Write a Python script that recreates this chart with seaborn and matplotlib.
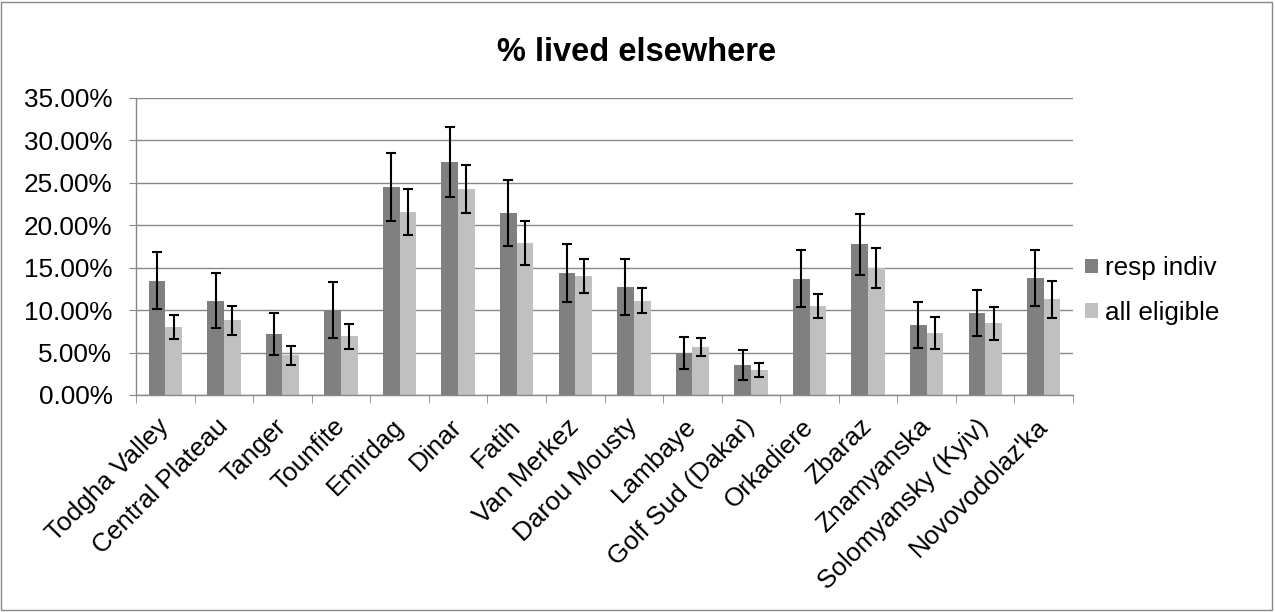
import numpy as np
import pandas as pd
import matplotlib
matplotlib.use("Agg")
import matplotlib.pyplot as plt
import seaborn as sns
from matplotlib.patches import Rectangle, Patch
from matplotlib.ticker import FuncFormatter, FixedLocator

# --- data (percent) ---
sites = ["Todgha Valley", "Central Plateau", "Tanger", "Tounfite", "Emirdag",
         "Dinar", "Fatih", "Van Merkez", "Darou Mousty", "Lambaye",
         "Golf Sud (Dakar)", "Orkadiere", "Zbaraz", "Znamyanska",
         "Solomyansky (Kyiv)", "Novovodolaz'ka"]
resp_indiv = [13.47, 11.12, 7.19, 10.02, 24.55, 27.42, 21.45, 14.34,
              12.77, 4.95, 3.53, 13.71, 17.75, 8.25, 9.70, 13.83]
resp_indiv_err = [3.38, 3.24, 2.50, 3.32, 4.00, 4.12, 3.93, 3.40,
                  3.30, 1.90, 1.80, 3.32, 3.63, 2.67, 2.73, 3.30]
all_eligible = [8.05, 8.80, 4.67, 6.91, 21.52, 24.31, 17.91, 14.06,
                11.12, 5.66, 2.95, 10.49, 14.93, 7.31, 8.44, 11.27]
all_eligible_err = [1.43, 1.73, 1.16, 1.45, 2.70, 2.85, 2.55, 2.02,
                    1.45, 1.08, 0.85, 1.42, 2.37, 1.87, 1.95, 2.22]
series = ["resp indiv", "all eligible"]
colors = {"resp indiv": "#808080", "all eligible": "#c0c0c0"}
y_ticks = [0, 5, 10, 15, 20, 25, 30, 35]

plt.rcParams['font.family'] = ['Liberation Sans', 'DejaVu Sans']

df = pd.DataFrame({
    "site": sites * 2,
    "series": [series[0]] * len(sites) + [series[1]] * len(sites),
    "value": resp_indiv + all_eligible,
})
errs = {series[0]: resp_indiv_err, series[1]: all_eligible_err}
vals = {series[0]: resp_indiv, series[1]: all_eligible}

fig = plt.figure(figsize=(12.75, 6.12), dpi=100)
ax = fig.add_axes([0.1067, 0.3546, 0.7349, 0.4853])

sns.barplot(data=df, x="site", y="value", hue="series", order=sites,
            hue_order=series, palette=colors, width=0.57, errorbar=None,
            saturation=1, legend=False, ax=ax, zorder=2)

# error bars at the bar centres
for cont, s in zip(ax.containers, series):
    xs = [p.get_x() + p.get_width() / 2 for p in cont]
    ax.errorbar(xs, vals[s], yerr=errs[s], fmt='none', ecolor='black',
                elinewidth=1.5, capsize=3.8, capthick=1.5, zorder=3)

ax.set_xlim(-0.5, len(sites) - 0.5)
ax.set_ylim(0, 35)
ax.yaxis.set_major_locator(FixedLocator(y_ticks))
ax.yaxis.set_major_formatter(FuncFormatter(lambda v, p: f"{v:.2f}%"))
ax.grid(axis='y', color='#888888', linewidth=1.0)
ax.set_axisbelow(True)
ax.set_xlabel("")
ax.set_ylabel("")

for side in ['top', 'right']:
    ax.spines[side].set_visible(False)
for side in ['left', 'bottom']:
    ax.spines[side].set_color('#888888')
    ax.spines[side].set_linewidth(1.0)

ax.tick_params(axis='y', labelsize=18.8, length=5, color='#888888', pad=12)
ax.set_xticks(range(len(sites)))
ax.set_xticklabels(sites, rotation=45, ha='right', va='center',
                   rotation_mode='anchor', fontsize=18.8)
ax.tick_params(axis='x', which='major', length=0, pad=20)
ax.set_xticks(np.arange(-0.5, len(sites)), minor=True)
ax.tick_params(axis='x', which='minor', length=5.5, color='#888888')

fig.text(0.4996, 0.915, "% lived elsewhere", ha='center', va='center',
         fontsize=23.5, fontweight='bold')

handles = [Patch(facecolor=colors[s], edgecolor='none', label=s) for s in series]
fig.legend(handles=handles, loc='center left', bbox_to_anchor=(0.843, 0.525),
           frameon=False, fontsize=18.8, handlelength=0.5, handleheight=0.5,
           handletextpad=0.25, labelspacing=0.8, borderaxespad=0)

fig.patches.append(Rectangle((0.001, 0.003), 0.997, 0.994, transform=fig.transFigure,
                             fill=False, edgecolor='#888888', linewidth=1.0))

fig.savefig("out.png", dpi=100)
